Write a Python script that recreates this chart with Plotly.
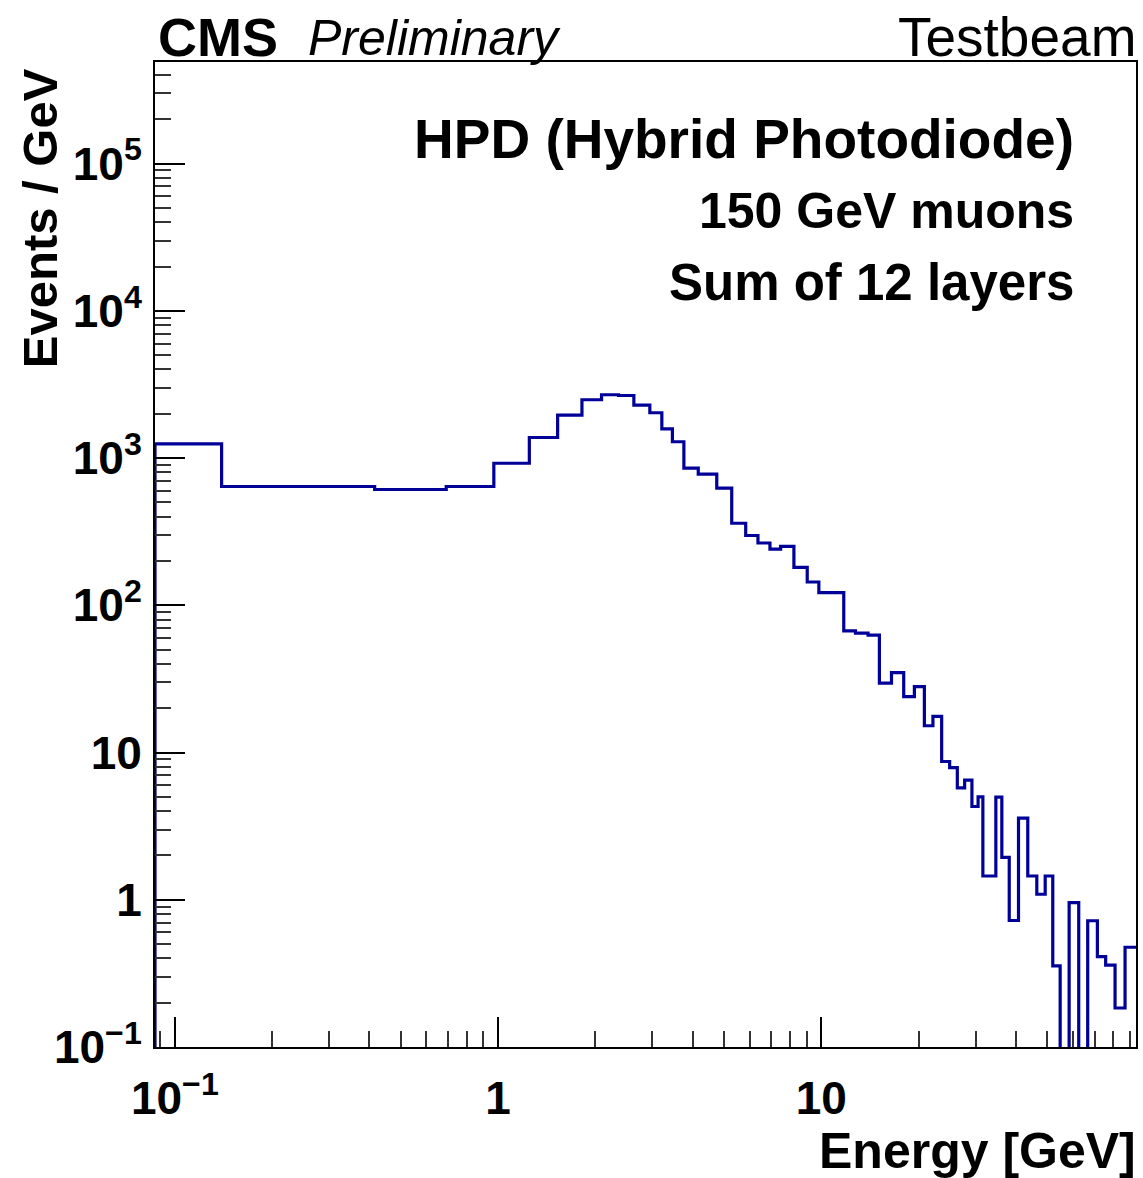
import math
import plotly.graph_objects as go

# Histogram bin edges [GeV] and contents [events / GeV]
bin_edges = [
    0.0868, 0.1395, 0.415, 0.691, 0.970, 1.249, 1.528, 1.817, 2.089, 2.358,
    2.630, 2.947, 3.210, 3.461, 3.756, 4.161, 4.747, 5.281, 5.834, 6.366,
    6.934, 7.482, 8.224, 9.042, 9.824, 11.73, 12.75, 13.95, 15.12, 16.48,
    17.98, 19.40, 20.83, 22.14, 23.56, 24.94, 26.34, 27.75, 29.23, 30.54,
    31.60, 34.66, 36.17, 38.13, 40.73, 43.51, 46.40, 49.26, 51.99, 54.80,
    58.42, 62.55, 66.68, 71.44, 75.78, 81.02, 87.00, 94.06,
]
events_per_gev = [
    1250, 641, 612, 641, 922, 1380, 1959, 2490, 2692, 2661,
    2291, 2032, 1581, 1291, 855, 778, 625, 361, 298, 265,
    241, 251, 181, 144, 122, 67.1, 64.7, 62.8, 29.6, 34.9,
    24.0, 28.0, 15.2, 17.6, 8.69, 7.9, 5.75, 6.5, 4.3, 5.0,
    1.45, 4.98, 1.94, 0.723, 3.58, 1.45, 1.09, 1.45, 0.356, 0,
    0.957, 0, 0.72, 0.411, 0.36, 0.184, 0.476,
]

x_tick_vals = [0.1, 1, 10]
x_tick_text = ["10<sup>\u22121</sup>", "1", "10"]
y_tick_vals = [0.1, 1, 10, 100, 1000, 1e4, 1e5]
y_tick_text = ["10<sup>\u22121</sup>", "1", "10", "10<sup>2</sup>",
               "10<sup>3</sup>", "10<sup>4</sup>", "10<sup>5</sup>"]

X_MIN, X_MAX = bin_edges[0], bin_edges[-1]
Y_MIN, Y_MAX = 0.1, 4.9e5
FLOOR = 1e-4  # empty bins are drawn down to below the axis floor

# Build the step outline of the histogram
xs, ys = [bin_edges[0]], [FLOOR]
for i, v in enumerate(events_per_gev):
    h = v if v > 0 else FLOOR
    xs += [bin_edges[i], bin_edges[i + 1]]
    ys += [h, h]

# Minor tick positions (2..9 in each decade)
x_minor = [m * 10 ** d for d in range(-2, 2) for m in range(2, 10)
           if X_MIN <= m * 10 ** d <= X_MAX]
y_minor = [m * 10 ** d for d in range(-1, 6) for m in range(2, 10)
           if Y_MIN <= m * 10 ** d <= Y_MAX]

W, H = 1143, 1178
L, R, T, B = 155, 5, 62, 131
PW, PH = W - L - R, H - T - B


def px(x):
    return (x - L) / PW


def py(y):
    return 1 - (y - T) / PH


FONT = "Liberation Sans, Arial, Helvetica, sans-serif"
BLUE = "#000099"

fig = go.Figure()
fig.add_trace(go.Scatter(
    x=xs, y=ys, mode="lines",
    line=dict(color=BLUE, width=3.2),
    hoverinfo="skip", showlegend=False,
))

axis_common = dict(
    type="log",
    showgrid=False, zeroline=False,
    showline=True, linecolor="black", linewidth=2, mirror=True,
    ticks="inside", ticklen=30, tickwidth=2, tickcolor="black",
    tickfont=dict(family=FONT, size=46, color="black", weight="bold"),
    tickmode="array",
)

fig.update_xaxes(
    **axis_common,
    range=[math.log10(X_MIN), math.log10(X_MAX)],
    tickvals=x_tick_vals, ticktext=x_tick_text,
    ticklabelstandoff=10,
    minor=dict(ticks="inside", ticklen=16, tickwidth=2, tickcolor="#333333",
               tickmode="array", tickvals=x_minor),
)
fig.update_yaxes(
    **axis_common,
    range=[math.log10(Y_MIN), math.log10(Y_MAX)],
    tickvals=y_tick_vals, ticktext=y_tick_text,
    ticklabelstandoff=2,
    minor=dict(ticks="inside", ticklen=16, tickwidth=2, tickcolor="#333333",
               tickmode="array", tickvals=y_minor),
)

annotations = [
    dict(text="<b>CMS</b>", x=px(156), y=py(37), xanchor="left", yanchor="middle",
         font=dict(family=FONT, size=54, color="black")),
    dict(text="<i>Preliminary</i>", x=px(306), y=py(38), xanchor="left", yanchor="middle",
         font=dict(family=FONT, size=50, color="black")),
    dict(text="Testbeam", x=px(1140), y=py(37), xanchor="right", yanchor="middle",
         font=dict(family=FONT, size=55, color="black")),
    dict(text="<b>HPD (Hybrid Photodiode)</b>", x=px(1078), y=py(139),
         xanchor="right", yanchor="middle",
         font=dict(family=FONT, size=55, color="black")),
    dict(text="<b>150 GeV muons</b>", x=px(1078), y=py(211),
         xanchor="right", yanchor="middle",
         font=dict(family=FONT, size=50, color="black")),
    dict(text="<b>Sum of 12 layers</b>", x=px(1078), y=py(282),
         xanchor="right", yanchor="middle",
         font=dict(family=FONT, size=51, color="black")),
    dict(text="<b>Energy [GeV]</b>", x=px(1140), y=py(1151),
         xanchor="right", yanchor="middle",
         font=dict(family=FONT, size=50, color="black")),
    dict(text="<b>Events / GeV</b>", x=px(40), y=py(66),
         xanchor="center", yanchor="top", textangle=-90,
         font=dict(family=FONT, size=49, color="black")),
]
for a in annotations:
    a.update(xref="paper", yref="paper", showarrow=False)

fig.update_layout(
    width=W, height=H,
    margin=dict(l=L, r=R, t=T, b=B, pad=0),
    paper_bgcolor="white", plot_bgcolor="white",
    annotations=annotations,
)

fig.write_html("out.html")
